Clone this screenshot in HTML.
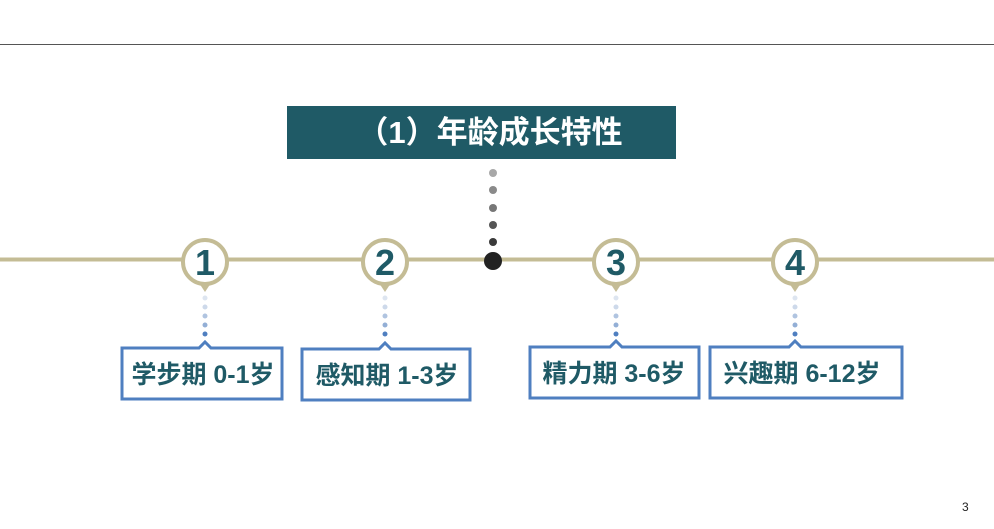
<!DOCTYPE html>
<html><head><meta charset="utf-8"><style>
html,body{margin:0;padding:0;background:#fff;}
svg{display:block;}
text{font-family:"Liberation Sans","Noto Sans CJK SC",sans-serif;font-weight:bold;}
</style></head><body>
<svg width="994" height="529" viewBox="0 0 994 529" xmlns="http://www.w3.org/2000/svg">
<line x1="0" y1="44.5" x2="994" y2="44.5" stroke="#555" stroke-width="1"/>
<rect x="287" y="106" width="389" height="53" fill="#1f5a66"/>
<text x="490" y="143" font-size="31" fill="#fff" text-anchor="middle">（1）年龄成长特性</text>
<line x1="0" y1="259.5" x2="994" y2="259.5" stroke="#c4bc95" stroke-width="4"/>
<circle cx="493" cy="173" r="4" fill="#a8a8a8"/>
<circle cx="493" cy="190" r="4" fill="#8a8a8a"/>
<circle cx="493" cy="208" r="4" fill="#777"/>
<circle cx="493" cy="225" r="4" fill="#555"/>
<circle cx="493" cy="242" r="4" fill="#3a3a3a"/>
<circle cx="493" cy="261" r="9" fill="#222"/>
<g stroke="#c4bc95" stroke-width="4" fill="#fff">
<circle cx="205" cy="262" r="22"/>
<circle cx="385" cy="262" r="22"/>
<circle cx="616" cy="262" r="22"/>
<circle cx="795" cy="262" r="22"/>
</g>
<g fill="#c4bc95">
<path d="M199 283 L211 283 L205 292 Z"/>
<path d="M379 283 L391 283 L385 292 Z"/>
<path d="M610 283 L622 283 L616 292 Z"/>
<path d="M789 283 L801 283 L795 292 Z"/>
</g>
<g font-size="36" fill="#1f5a66" text-anchor="middle">
<text x="205" y="275">1</text>
<text x="385" y="275">2</text>
<text x="616" y="275">3</text>
<text x="795" y="275">4</text>
</g>
<g id="d1">
<circle cx="205" cy="298" r="2.5" fill="#dde5f0"/>
<circle cx="205" cy="307" r="2.5" fill="#cdd9ea"/>
<circle cx="205" cy="316" r="2.5" fill="#b0c4e0"/>
<circle cx="205" cy="325" r="2.5" fill="#93afd6"/>
<circle cx="205" cy="334" r="2.5" fill="#4f7fc0"/>
</g>
<use href="#d1" x="180"/>
<use href="#d1" x="411"/>
<use href="#d1" x="590"/>
<g fill="#fff" stroke="#4f7fc0" stroke-width="3">
<path d="M122 348 L199 348 L205 342 L211 348 L282 348 L282 399 L122 399 Z"/>
<path d="M302 349 L379 349 L385 343 L391 349 L470 349 L470 400 L302 400 Z"/>
<path d="M530 347 L610 347 L616 341 L622 347 L699 347 L699 398 L530 398 Z"/>
<path d="M710 347 L789 347 L795 341 L801 347 L902 347 L902 398 L710 398 Z"/>
</g>
<g font-size="25" fill="#1f5a66" text-anchor="middle">
<text x="203" y="383">学步期 0-1岁</text>
<text x="387" y="384">感知期 1-3岁</text>
<text x="614" y="382">精力期 3-6岁</text>
<text x="802" y="382">兴趣期 6-12岁</text>
</g>
<text x="962" y="511" font-size="12" fill="#222" style="font-weight:normal">3</text>
</svg>
</body></html>
